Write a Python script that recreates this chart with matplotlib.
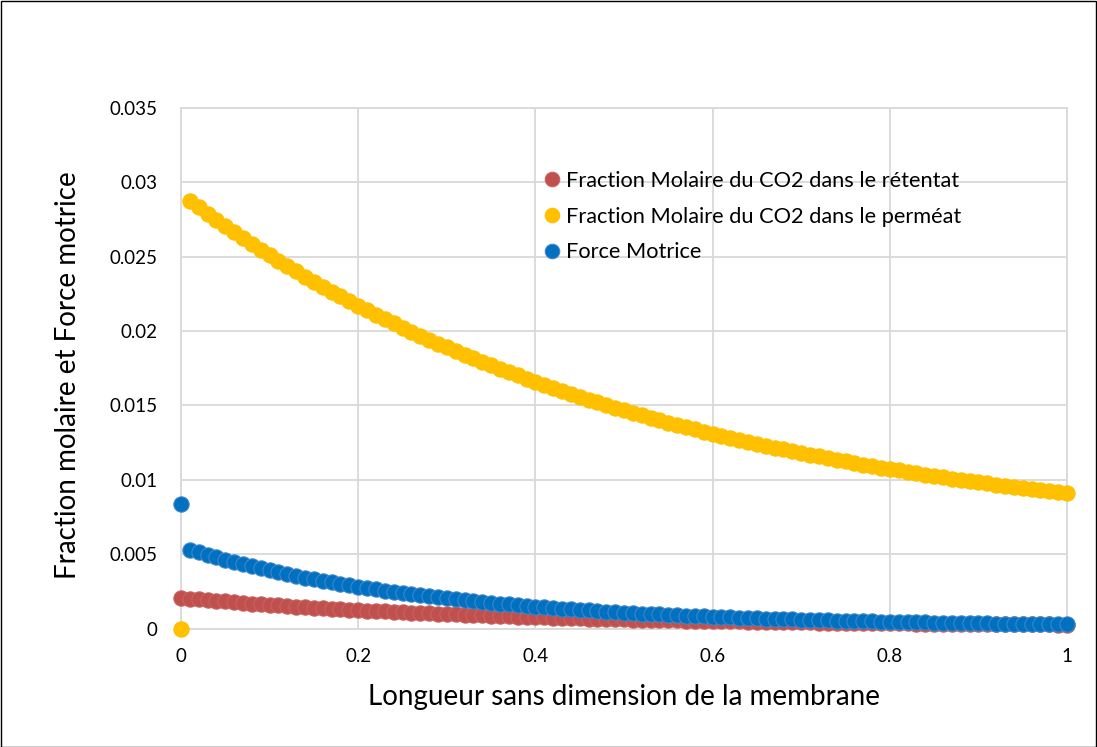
import matplotlib
matplotlib.use("Agg")
import matplotlib.pyplot as plt
from matplotlib.patches import Rectangle

# ---------------- data ----------------
x_positions = [round(i * 0.01, 2) for i in range(101)]

retentat = [
    0.002070, 0.002016, 0.001964, 0.001914, 0.001864, 0.001817, 0.001770, 0.001725, 0.001681, 0.001638,
    0.001597, 0.001556, 0.001517, 0.001479, 0.001442, 0.001406, 0.001371, 0.001337, 0.001304, 0.001271,
    0.001240, 0.001209, 0.001180, 0.001152, 0.001123, 0.001097, 0.001070, 0.001044, 0.001019, 0.000995,
    0.000971, 0.000948, 0.000926, 0.000905, 0.000883, 0.000863, 0.000843, 0.000824, 0.000805, 0.000787,
    0.000769, 0.000752, 0.000735, 0.000719, 0.000703, 0.000687, 0.000672, 0.000658, 0.000644, 0.000630,
    0.000616, 0.000603, 0.000591, 0.000579, 0.000566, 0.000555, 0.000544, 0.000533, 0.000522, 0.000511,
    0.000501, 0.000492, 0.000482, 0.000473, 0.000464, 0.000455, 0.000447, 0.000438, 0.000430, 0.000422,
    0.000415, 0.000407, 0.000400, 0.000393, 0.000386, 0.000380, 0.000373, 0.000367, 0.000361, 0.000355,
    0.000350, 0.000344, 0.000339, 0.000333, 0.000328, 0.000323, 0.000318, 0.000314, 0.000309, 0.000305,
    0.000300, 0.000296, 0.000292, 0.000288, 0.000284, 0.000281, 0.000277, 0.000273, 0.000270, 0.000267,
    0.000263,
]

permeat = [
    0.0,
    0.028755, 0.028317, 0.027886, 0.027464, 0.027050, 0.026644, 0.026245, 0.025854, 0.025471,
    0.025094, 0.024725, 0.024363, 0.024008, 0.023659, 0.023317, 0.022982, 0.022652, 0.022330, 0.022013,
    0.021702, 0.021398, 0.021099, 0.020805, 0.020517, 0.020235, 0.019958, 0.019686, 0.019419, 0.019158,
    0.018901, 0.018649, 0.018403, 0.018160, 0.017922, 0.017689, 0.017461, 0.017236, 0.017016, 0.016800,
    0.016588, 0.016380, 0.016176, 0.015976, 0.015780, 0.015587, 0.015398, 0.015213, 0.015031, 0.014853,
    0.014678, 0.014506, 0.014338, 0.014172, 0.014010, 0.013851, 0.013695, 0.013542, 0.013392, 0.013245,
    0.013100, 0.012958, 0.012820, 0.012683, 0.012549, 0.012418, 0.012289, 0.012162, 0.012038, 0.011917,
    0.011798, 0.011681, 0.011566, 0.011453, 0.011342, 0.011234, 0.011128, 0.011023, 0.010921, 0.010820,
    0.010722, 0.010625, 0.010530, 0.010437, 0.010346, 0.010256, 0.010169, 0.010082, 0.009998, 0.009915,
    0.009833, 0.009754, 0.009675, 0.009598, 0.009523, 0.009449, 0.009377, 0.009305, 0.009235, 0.009167,
    0.009100,
]

force_motrice = [
    0.008360,
    0.005290, 0.005116, 0.004947, 0.004784, 0.004626, 0.004474, 0.004327, 0.004185, 0.004048, 0.003915,
    0.003787, 0.003663, 0.003543, 0.003427, 0.003315, 0.003207, 0.003103, 0.003002, 0.002904, 0.002810,
    0.002719, 0.002631, 0.002546, 0.002464, 0.002384, 0.002307, 0.002233, 0.002161, 0.002092, 0.002025,
    0.001960, 0.001898, 0.001837, 0.001779, 0.001722, 0.001668, 0.001615, 0.001564, 0.001515, 0.001467,
    0.001421, 0.001377, 0.001334, 0.001293, 0.001252, 0.001214, 0.001176, 0.001140, 0.001105, 0.001071,
    0.001039, 0.001007, 0.000977, 0.000947, 0.000919, 0.000891, 0.000865, 0.000839, 0.000814, 0.000790,
    0.000767, 0.000744, 0.000723, 0.000702, 0.000681, 0.000662, 0.000643, 0.000625, 0.000607, 0.000590,
    0.000574, 0.000558, 0.000542, 0.000528, 0.000513, 0.000499, 0.000486, 0.000473, 0.000460, 0.000448,
    0.000436, 0.000425, 0.000414, 0.000404, 0.000393, 0.000384, 0.000374, 0.000365, 0.000356, 0.000347,
    0.000339, 0.000331, 0.000323, 0.000316, 0.000308, 0.000301, 0.000295, 0.000288, 0.000282, 0.000276,
]

series_labels = [
    "Fraction Molaire du CO2 dans le rétentat",
    "Fraction Molaire du CO2 dans le perméat",
    "Force Motrice",
]
x_ticks = [0, 0.2, 0.4, 0.6, 0.8, 1.0]
x_tick_labels = ["0", "0.2", "0.4", "0.6", "0.8", "1"]
y_ticks = [0, 0.005, 0.01, 0.015, 0.02, 0.025, 0.03, 0.035]
y_tick_labels = ["0", "0.005", "0.01", "0.015", "0.02", "0.025", "0.03", "0.035"]
x_label = "Longueur sans dimension de la membrane"
y_label = "Fraction molaire et Force motrice"

# ---------------- style ----------------
plt.rcParams["font.family"] = ["Lato", "DejaVu Sans"]
W, H = 1097, 747
fig = plt.figure(figsize=(W / 100, H / 100), dpi=100)
ax = fig.add_axes([181 / W, 1 - 628.5 / H, (1067 - 181) / W, (628.5 - 108) / H])

colors = ["#C0504D", "#FFC000", "#0070C0"]
edges = ["#C9625F", "#FFC000", "#3F86CB"]
series = [retentat, permeat, force_motrice]
for vals, c, e, lab in zip(series, colors, edges, series_labels):
    ax.plot(x_positions, vals, linestyle="none", marker="o", markersize=11,
            markerfacecolor=c, markeredgecolor=e, markeredgewidth=0.8,
            label=lab, clip_on=False, zorder=3)

grid_c = "#D9D9D9"
ax.set_xlim(0, 1)
ax.set_ylim(0, 0.035)
ax.set_xticks(x_ticks)
ax.set_xticklabels(x_tick_labels)
ax.set_yticks(y_ticks)
ax.set_yticklabels(y_tick_labels)
ax.grid(True, color=grid_c, linewidth=1.3)
ax.set_axisbelow(True)
for s in ax.spines.values():
    s.set_color(grid_c)
    s.set_linewidth(1.3)
ax.tick_params(length=0, labelsize=13.5, colors="black")
ax.tick_params(axis="y", pad=17)
ax.tick_params(axis="x", pad=14)

ax.set_xlabel(x_label, fontsize=20, va="center")
ax.xaxis.set_label_coords(0.5, -0.1316)
ax.set_ylabel(y_label, fontsize=20, va="center")
ax.yaxis.set_label_coords(-0.1275, 0.487)

leg = ax.legend(loc="upper left", bbox_to_anchor=(545 / W, 1 - 171 / H),
                bbox_transform=fig.transFigure, frameon=False, fontsize=15.7,
                handlelength=0.6, handletextpad=0.35, labelspacing=0.72,
                borderpad=0, borderaxespad=0, markerscale=0.95)

fig.patches.append(Rectangle((0.5 / W, 0.5 / H), 1 - 1.5 / W, 1 - 1.5 / H,
                             transform=fig.transFigure, fill=False,
                             edgecolor="black", linewidth=1.0))

fig.savefig("out.png", dpi=100)
